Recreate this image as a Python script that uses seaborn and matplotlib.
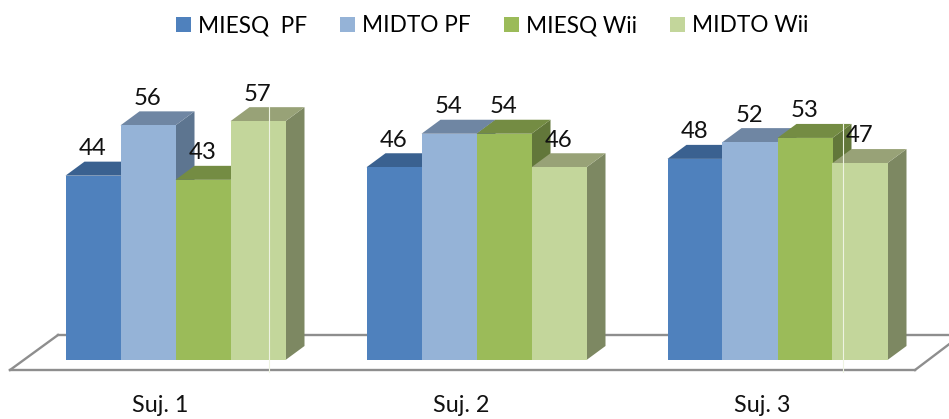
import matplotlib
matplotlib.use("Agg")
import matplotlib.pyplot as plt
import matplotlib.transforms as mtrans
from matplotlib.lines import Line2D
from matplotlib.patches import Polygon
import pandas as pd
import seaborn as sns

subjects = ["Suj. 1", "Suj. 2", "Suj. 3"]
series_names = ["MIESQ  PF", "MIDTO PF", "MIESQ Wii", "MIDTO Wii"]
miesq_pf = [44, 46, 48]
midto_pf = [56, 54, 52]
miesq_wii = [43, 54, 53]
midto_wii = [57, 46, 47]

front_colors = ["#4F81BD", "#95B3D7", "#9BBB59", "#C3D69B"]
top_colors = ["#3A6190", "#6F86A3", "#748C43", "#98A277"]
side_colors = ["#2F5079", "#5D7590", "#62773A", "#7D8862"]

W, H = 949, 419
BASE_PX = 360
PX_PER_UNIT = 4.19
PX_PER_CAT = 301
FIRST_CAT_PX = 175.5
DEPTH_X = 19 / PX_PER_CAT
DEPTH_Y = 14 / PX_PER_UNIT
TEXT_SIZE = 16.8
VALUE_SIZE = 17.2
LEGEND_SIZE = 16.3

plt.rcParams["font.family"] = ["Lato", "DejaVu Sans"]

df = pd.DataFrame({"subject": subjects, series_names[0]: miesq_pf, series_names[1]: midto_pf,
                   series_names[2]: miesq_wii, series_names[3]: midto_wii})
long_df = df.melt(id_vars="subject", var_name="serie", value_name="valor")

fig = plt.figure(figsize=(W / 100, H / 100), dpi=100)
ax = fig.add_axes([0, (H - BASE_PX) / H, 1, BASE_PX / H])
sns.barplot(data=long_df, x="subject", y="valor", hue="serie", hue_order=series_names,
            palette=front_colors, width=220 / PX_PER_CAT, gap=0, saturation=1,
            errorbar=None, ax=ax, linewidth=0)

ax.set_xlim(-FIRST_CAT_PX / PX_PER_CAT, (W - FIRST_CAT_PX) / PX_PER_CAT)
ax.set_ylim(0, BASE_PX / PX_PER_UNIT)
ax.set_xlabel("")
ax.set_ylabel("")
ax.set_yticks([])
ax.tick_params(axis="x", length=0, pad=25, labelsize=TEXT_SIZE, labelcolor="#111111")
sns.despine(ax=ax, left=True, bottom=True)

# The category labels sit slightly left of their bar groups
label_shift = mtrans.ScaledTranslation(-15 / 100, 0, fig.dpi_scale_trans)
for tick_label in ax.get_xticklabels():
    tick_label.set_transform(tick_label.get_transform() + label_shift)

# Extruded top and side faces plus the value label of every bar
for s, container in enumerate(ax.containers):
    for c, bar in enumerate(container):
        x0, x1 = bar.get_x(), bar.get_x() + bar.get_width()
        h = bar.get_height()
        z = 5 + c * 10 + s
        bar.set_zorder(z + 0.2)
        ax.add_patch(Polygon([(x1, 0), (x1 + DEPTH_X, DEPTH_Y), (x1 + DEPTH_X, h + DEPTH_Y), (x1, h)],
                             closed=True, facecolor=side_colors[s], edgecolor="none", zorder=z))
        ax.add_patch(Polygon([(x0, h), (x0 + DEPTH_X, h + DEPTH_Y), (x1 + DEPTH_X, h + DEPTH_Y), (x1, h)],
                             closed=True, facecolor=top_colors[s], edgecolor="none", zorder=z + 0.1))
        ax.annotate(f"{h:.0f}", (bar.get_x() + bar.get_width() / 2, h), xytext=(0, 19.5),
                    textcoords="offset points", ha="center", va="center",
                    fontsize=VALUE_SIZE, color="#111111", zorder=100)

# Floor outline, expressed in figure pixels from the top-left corner
px = mtrans.Affine2D().scale(1, -1).translate(0, H)
floor_color = "#8E8E8E"
for xs, ys in [((10, 915), (370, 370)), ((10, 58), (370, 335)), ((58, 949), (335, 335)), ((915, 952), (370, 342))]:
    fig.add_artist(Line2D(xs, ys, color=floor_color, lw=1.7, transform=px, zorder=0))
ax.patch.set_alpha(0)

# Thin light seams crossing the pale green bars
for x, top in [(269, 107), (843, 124)]:
    ax.add_line(Line2D([x, x], [top, 372], color="#EEF3E2", lw=0.8, transform=px, zorder=90, clip_on=False))

sns.move_legend(ax, "upper center", bbox_to_anchor=(492 / W, 1.0), bbox_transform=fig.transFigure, ncol=4,
                frameon=False, title=None, fontsize=LEGEND_SIZE, handlelength=0.66, handleheight=0.66,
                handletextpad=0.31, columnspacing=1.46, borderaxespad=0.28)

fig.savefig("out.png", dpi=100)
